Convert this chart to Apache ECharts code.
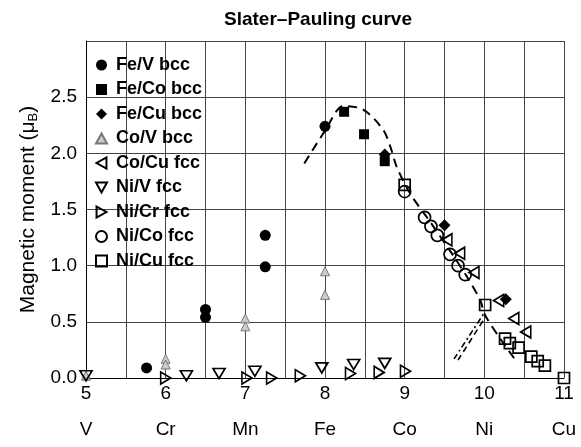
<!DOCTYPE html>
<html>
<head>
<meta charset="utf-8">
<script src="https://cdn.jsdelivr.net/npm/echarts@6/dist/echarts.min.js"></script>
<style>html,body{margin:0;padding:0;background:#fff;}#c{width:581px;height:447px;}</style>
</head>
<body>
<div id="c"></div>
<script>
// ---- data ----
var xTicks = [5, 6, 7, 8, 9, 10, 11];
var elements = ['V', 'Cr', 'Mn', 'Fe', 'Co', 'Ni', 'Cu'];
var yTicks = ['0.0', '0.5', '1.0', '1.5', '2.0', '2.5'];

var feV = [[5.76,0.09],[6.5,0.61],[6.5,0.54],[7.25,1.27],[7.25,0.99],[8.0,2.24]];
var feCo = [[8.24,2.37],[8.49,2.17],[8.75,1.93]];
var feCu = [[8.75,1.99],[9.5,1.36],[10.27,0.70]];
var coV = [[5.0,0.02],[6.0,0.17],[6.0,0.12],[7.0,0.53],[7.0,0.46],[8.0,0.95],[8.0,0.74]];
var coCu = [[9.53,1.23],[9.69,1.11],[9.87,0.94],[10.18,0.69],[10.37,0.53],[10.52,0.41]];
var niV = [[5.0,0.02],[6.26,0.02],[6.67,0.04],[7.12,0.06],[7.96,0.09],[8.36,0.12],[8.75,0.13]];
var niCr = [[6.0,0.0],[7.02,0.0],[7.33,0.0],[7.69,0.02],[8.32,0.04],[8.68,0.05],[9.01,0.06]];
var niCo = [[9.0,1.66],[9.25,1.43],[9.33,1.35],[9.41,1.27],[9.57,1.10],[9.67,1.00],[9.76,0.92]];
var niCu = [[9.0,1.72],[10.01,0.65],[10.26,0.35],[10.32,0.31],[10.43,0.27],[10.59,0.19],[10.67,0.15],[10.76,0.11],[11.0,0.0]];
var spCurve = [[7.74,1.91],[8.0,2.2],[8.23,2.42],[8.48,2.39],[8.73,2.21],[8.82,2.06],[8.9,1.88],[9.07,1.64],[9.3,1.41],[9.6,1.1],[9.8,0.88],[9.95,0.69],[10.01,0.56],[10.2,0.35],[10.38,0.17]];
var niBranchA = [[9.62,0.17],[10.0,0.58]];
var niBranchB = [[9.67,0.16],[10.02,0.55]];

var FONT = 'Liberation Sans, Arial, Helvetica, sans-serif';
var TRI_LEFT = 'path://M9,0 L9,10 L0,5 Z';
var TRI_RIGHT = 'path://M0,0 L9,5 L0,10 Z';
var TRI_DOWN = 'path://M0,0 L10,0 L5,9 Z';
var TRI_UP = 'path://M5,0 L10,9 L0,9 Z';

var chart = echarts.init(document.getElementById('c'), null, {renderer: 'canvas'});

function open(sym, size) {
  return {symbol: sym, symbolSize: size,
    itemStyle: {color: 'rgba(255,255,255,0)', borderColor: '#000', borderWidth: 1.7, opacity: 1}};
}
function filled(sym, size) {
  return {symbol: sym, symbolSize: size, itemStyle: {color: '#000', opacity: 1}};
}
function scat(name, data, style) {
  var s = {name: name, type: 'scatter', data: data, z: 5};
  for (var k in style) s[k] = style[k];
  return s;
}
function line(data, type, width) {
  return {type: 'line', data: data, smooth: 0.3, showSymbol: false, silent: true, z: 3,
    lineStyle: {color: '#000', width: width || 2, type: type}};
}

var series = [
  scat('Fe/V bcc', feV, filled('circle', 11)),
  scat('Fe/Co bcc', feCo, filled('rect', 10)),
  scat('Fe/Cu bcc', feCu, filled('diamond', 12)),
  scat('Co/V bcc', coV, {symbol: TRI_UP, symbolSize: [9, 9],
        itemStyle: {color: '#ccc', borderColor: '#777', borderWidth: 1, opacity: 1}}),
  scat('Co/Cu fcc', coCu, open(TRI_LEFT, [10, 12])),
  scat('Ni/V fcc', niV, open(TRI_DOWN, [12, 10])),
  scat('Ni/Cr fcc', niCr, open(TRI_RIGHT, [10, 12])),
  scat('Ni/Co fcc', niCo, open('circle', 12)),
  scat('Ni/Cu fcc', niCu, open('rect', 11)),
  line(spCurve, [9, 6], 2),
  line(niBranchA, [6, 3, 2, 3], 1.6),
  line(niBranchB, [6, 4], 1.6)
];

chart.setOption({
  animation: false,
  backgroundColor: '#fff',
  title: {text: 'Slater\u2013Pauling curve', left: 313, top: 5, textAlign: 'center',
    textStyle: {fontFamily: FONT, fontWeight: 'bold', fontSize: 19, color: '#000'}},
  legend: {orient: 'vertical', left: 95, top: 56, padding: 0, itemGap: 6.5, itemWidth: 11, itemHeight: 11,
    data: ['Fe/V bcc','Fe/Co bcc','Fe/Cu bcc','Co/V bcc','Co/Cu fcc','Ni/V fcc','Ni/Cr fcc','Ni/Co fcc','Ni/Cu fcc'],
    textStyle: {fontFamily: FONT, fontWeight: 'bold', fontSize: 18, color: '#000', padding: [0,0,0,4]}},
  grid: {left: 86, right: 17, top: 41, bottom: 69, show: false},
  xAxis: [{
    type: 'value', min: 5, max: 11, interval: 0.5,
    axisLine: {show: true, lineStyle: {color: '#000', width: 1}},
    axisTick: {show: false},
    splitLine: {show: true, lineStyle: {color: '#444', width: 1}},
    axisLabel: {margin: 6, fontFamily: FONT, fontSize: 19, color: '#000',
      formatter: function (v) { return xTicks.indexOf(v) >= 0 ? String(v) : ''; }}
  }, {
    type: 'value', min: 5, max: 11, interval: 1, position: 'bottom', offset: 36,
    axisLine: {show: false}, axisTick: {show: false}, splitLine: {show: false},
    axisLabel: {margin: 6, fontFamily: FONT, fontSize: 19, color: '#000',
      formatter: function (v) { var i = xTicks.indexOf(v); return i >= 0 ? elements[i] : ''; }}
  }],
  yAxis: {
    type: 'value', min: 0, max: 3, interval: 0.5,
    name: 'Magnetic moment (\u03bc{s|B})', nameLocation: 'middle', nameGap: 46, nameRotate: 90,
    nameTextStyle: {fontFamily: FONT, fontSize: 21, color: '#000',
      rich: {s: {fontFamily: FONT, fontSize: 13, color: '#000', verticalAlign: 'bottom', padding: [9,0,0,0]}}},
    axisLine: {show: true, lineStyle: {color: '#000', width: 1}},
    axisTick: {show: false},
    splitLine: {show: true, lineStyle: {color: '#444', width: 1}},
    axisLabel: {margin: 9, fontFamily: FONT, fontSize: 19, color: '#000',
      formatter: function (v) { var s = v.toFixed(1); return yTicks.indexOf(s) >= 0 ? s : ''; }}
  },
  series: series
});
</script>
</body>
</html>
